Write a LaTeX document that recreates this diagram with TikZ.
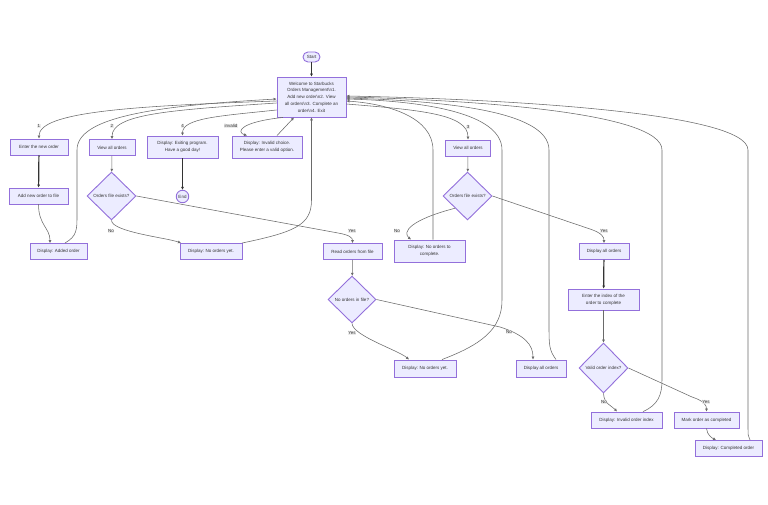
\documentclass[tikz,border=0pt]{standalone}
\usepackage{fontspec}
\setmainfont{Liberation Sans}
\usetikzlibrary{shapes.geometric,arrows.meta,calc}
\definecolor{mfill}{HTML}{ECECFF}
\definecolor{mstroke}{HTML}{9370DB}
\definecolor{mtext}{HTML}{333333}
\definecolor{medge}{HTML}{6A6A6A}
\definecolor{mlab}{HTML}{E8E8E8}
\begin{document}
\begin{tikzpicture}[x=1pt,y=-1pt,
  every node/.style={font=\fontsize{4.5}{6.8}\selectfont, text=mtext},
  box/.style={draw=mstroke, fill=mfill, line width=0.9pt, align=center, inner sep=1pt},
  dia/.style={diamond, draw=mstroke, fill=mfill, line width=0.9pt, inner sep=0pt, align=center},
  term/.style={draw=mstroke, fill=mfill, line width=0.9pt, rounded corners=5pt, inner sep=0pt},
  conn/.style={draw=medge, line width=0.55pt, -{Latex[length=3pt,width=3pt]}},
  conthick/.style={draw=mtext, line width=1.2pt, -{Latex[length=3pt,width=3pt]}},
  elab/.style={fill=mlab, fill opacity=0.8, text opacity=1, inner sep=0.6pt},
]
\useasboundingbox (0,0) rectangle (768,505);
\fill[white] (0,0) rectangle (768,505);

% nodes
\node[term, minimum width=17pt, minimum height=10pt] (start) at (311.5,57) {Start};
\node[box, minimum width=69pt, minimum height=40pt] (w) at (311.5,97) {Welcome to Starbucks\\Orders Management\textbackslash n1.\\Add new order\textbackslash n2. View\\all orders\textbackslash n3. Complete an\\order\textbackslash n4. Exit};
\node[box, minimum width=58pt, minimum height=16pt] (e1) at (39,147) {Enter the new order};
\node[box, minimum width=46pt, minimum height=16pt] (v1) at (112,147.5) {View all orders};
\node[box, minimum width=71pt, minimum height=22pt] (dx) at (182.5,147) {Display: Exiting program.\\Have a good day!};
\node[box, minimum width=70pt, minimum height=22pt] (di) at (267,147) {Display: Invalid choice.\\Please enter a valid option.};
\node[box, minimum width=45pt, minimum height=16pt] (v2) at (468,148) {View all orders};
\node[box, minimum width=59pt, minimum height=16pt] (af) at (38.5,196) {Add new order to file};
\node[dia, minimum width=49pt, minimum height=48pt] (d1) at (111.5,196) {Orders file exists?};
\node[circle, draw=mstroke, fill=mfill, line width=0.9pt, inner sep=0pt, minimum size=12.5pt] (end) at (182.5,196.5) {End};
\node[box, minimum width=57pt, minimum height=16pt] (da) at (58.5,251.5) {Display: Added order};
\node[box, minimum width=62pt, minimum height=16pt] (nl) at (211,251.5) {Display: No orders yet.};
\node[box, minimum width=59pt, minimum height=16pt] (rf) at (352.5,251.5) {Read orders from file};
\node[box, minimum width=71pt, minimum height=22pt] (nc) at (429.5,251) {Display: No orders to\\complete.};
\node[dia, minimum width=49pt, minimum height=48pt] (d2r) at (467.5,196) {Orders file exists?};
\node[box, minimum width=50pt, minimum height=16pt] (dar) at (604,251.5) {Display all orders};
\node[dia, minimum width=48pt, minimum height=47pt] (d2) at (352,299.5) {No orders in file?};
\node[box, minimum width=62pt, minimum height=17pt] (nl2) at (425,368.5) {Display: No orders yet.};
\node[box, minimum width=50pt, minimum height=17pt] (da2) at (541,368.5) {Display all orders};
\node[box, minimum width=71pt, minimum height=21pt] (ei) at (603.5,299.5) {Enter the index of the\\order to complete};
\node[dia, minimum width=49pt, minimum height=50pt] (d3) at (603.5,368) {Valid order index?};
\node[box, minimum width=71pt, minimum height=16pt] (ii) at (626.5,420) {Display: Invalid order index};
\node[box, minimum width=65pt, minimum height=16pt] (mo) at (706.5,420) {Mark order as completed};
\node[box, minimum width=67pt, minimum height=16pt] (co) at (728.5,448.5) {Display: Completed order};

% connectors
\draw[conthick] (start) -- (w);
\draw[conn] (w.west |- 0,101) .. controls (130,106) and (39,112) .. (e1.north);
\draw[conn] (w.west |- 0,103) .. controls (170,110) and (112,114) .. (v1.north);
\draw[conn] (w.west |- 0,110) .. controls (220,116) and (182.5,118) .. (dx.north);
\draw[conn] (w.south -| 283,0) .. controls (240,122) and (236,132) .. (di.north -| 247,0);
\draw[conn] (di.north -| 277,0) -- (w.south -| 294,0);
\draw[conn] (w.east |- 0,104) .. controls (420,110) and (468,114) .. (v2.north);
\draw[conthick] (e1) -- (af);
\draw[conn] (af.south) .. controls (38.5,225) and (50,228) .. (da.north -| 50,0);
\draw[conn] (da.north -| 65,0) .. controls (77,236) and (77,230) .. (77,215) -- (77,150) .. controls (77,118) and (150,106) .. (w.west |- 0,99);
\draw[conn] (v1) -- (d1);
\draw[conthick] (dx) -- (end);
\draw[conn] (d1.south) .. controls (112,232) and (168,238) .. (nl.north -| 181,0);
\draw[conn] (d1.east) -- (338,233) .. controls (350,235) and (352.5,238) .. (rf.north);
\draw[conn] (nl.north -| 242,0) .. controls (295,232) and (311.5,225) .. (311.5,200) -- (w.south);
\draw[conn] (rf) -- (d2);
\draw[conn] (d2.south) .. controls (353,336) and (398,350) .. (nl2.north -| 409,0);
\draw[conn] (d2.east) -- (500,327) .. controls (525,335) and (533,345) .. (da2.north -| 533,0);
\draw[conn] (nl2.north -| 442,0) .. controls (480,345) and (502,330) .. (502,300) -- (502,150) .. controls (502,112) and (420,101) .. (w.east |- 0,99);
\draw[conn] (da2.north -| 556,0) .. controls (549,350) and (549,345) .. (549,325) -- (549,150) .. controls (549,110) and (440,101) .. (w.east |- 0,98);
\draw[conn] (v2) -- (d2r);
\draw[conn] (d2r.south west) .. controls (410,220) and (402,232) .. (nc.north -| 411,0);
\draw[conn] (d2r.east) -- (590,229) .. controls (602,233) and (604,237) .. (dar.north);
\draw[conn] (nc.north -| 433,0) -- (433,150) .. controls (433,118) and (390,104) .. (w.east |- 0,101);
\draw[conthick] (dar) -- (ei);
\draw[conn] (ei) -- (d3);
\draw[conn] (d3.south) .. controls (604,404) and (612,406) .. (ii.north -| 617,0);
\draw[conn] (d3.east) -- (692,397) .. controls (704,401) and (706.5,405) .. (mo.north);
\draw[conn] (ii.north -| 643,0) .. controls (658,405) and (662,395) .. (662,380) -- (662,150) .. controls (662,112) and (470,100) .. (w.east |- 0,97);
\draw[conn] (mo.south) .. controls (707,435) and (712,438) .. (co.north -| 716,0);
\draw[conn] (co.north -| 750,0) .. controls (748,436) .. (748,425) -- (748,150) .. controls (748,112) and (500,99) .. (w.east |- 0,96);

% edge labels
\node[elab] (l1) at (39,126) {1};
\node[elab] (l2) at (112,126) {2};
\node[elab] (l4) at (182.5,126) {4};
\node[elab] (linv) at (231,126) {invalid};
\node[elab] (l3) at (468,127) {3};
\node[elab] (lno1) at (111,231) {No};
\node[elab] (lyes1) at (352,231) {Yes};
\node[elab] (lno2) at (397,231) {No};
\node[elab] (lyes2) at (604,231) {Yes};
\node[elab] (lyes3) at (352,333) {Yes};
\node[elab] (lno3) at (509,332) {No};
\node[elab] (lno4) at (604,402) {No};
\node[elab] (lyes4) at (706,402) {Yes};
\end{tikzpicture}
\end{document}
